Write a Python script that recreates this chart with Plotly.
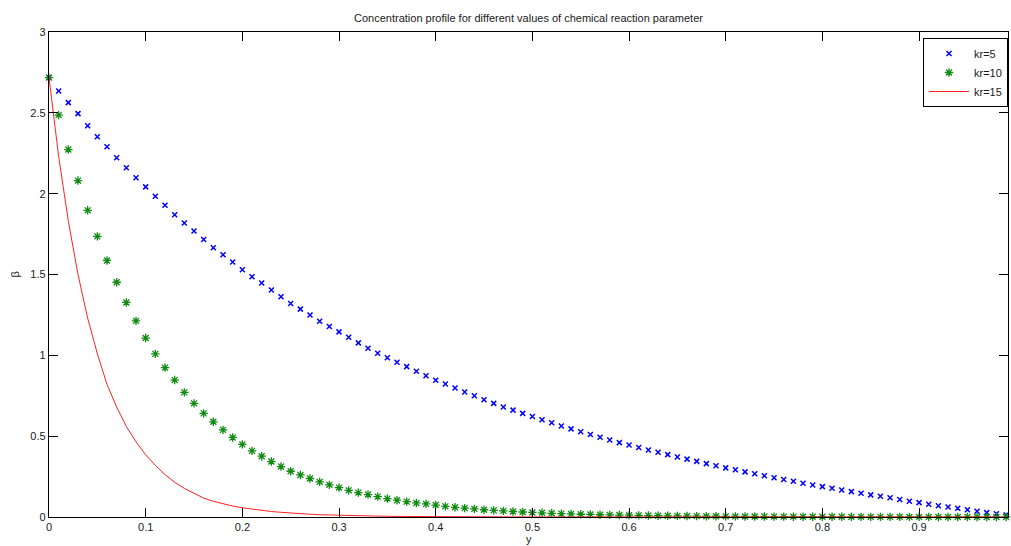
import plotly.graph_objects as go

# Sampling grid along the domain (step 0.01)
y_grid = [round(i * 0.01, 2) for i in range(100)]

# Concentration profiles for three chemical reaction parameters
beta_kr5 = [
    2.718, 2.635, 2.563, 2.495, 2.420, 2.352, 2.290, 2.222, 2.160, 2.098,
    2.042, 1.984, 1.928, 1.870, 1.819, 1.769, 1.717, 1.666, 1.622, 1.577,
    1.529, 1.486, 1.447, 1.404, 1.362, 1.321, 1.286, 1.249, 1.211, 1.178,
    1.145, 1.112, 1.077, 1.044, 1.013, 0.985, 0.957, 0.930, 0.901, 0.874,
    0.846, 0.823, 0.798, 0.773, 0.750, 0.725, 0.703, 0.681, 0.661, 0.641,
    0.622, 0.602, 0.583, 0.563, 0.545, 0.527, 0.510, 0.493, 0.476, 0.460,
    0.445, 0.430, 0.414, 0.400, 0.386, 0.371, 0.358, 0.344, 0.330, 0.317,
    0.304, 0.292, 0.279, 0.267, 0.255, 0.243, 0.232, 0.221, 0.209, 0.198,
    0.188, 0.178, 0.167, 0.157, 0.147, 0.137, 0.128, 0.119, 0.108, 0.098,
    0.089, 0.079, 0.070, 0.062, 0.054, 0.045, 0.036, 0.027, 0.020, 0.012,
]

beta_kr10 = [
    2.718, 2.486, 2.273, 2.081, 1.897, 1.736, 1.587, 1.452, 1.327, 1.213,
    1.107, 1.009, 0.924, 0.847, 0.771, 0.703, 0.641, 0.589, 0.539, 0.492,
    0.449, 0.409, 0.376, 0.343, 0.312, 0.283, 0.260, 0.238, 0.217, 0.199,
    0.182, 0.165, 0.151, 0.139, 0.126, 0.114, 0.104, 0.095, 0.087, 0.081,
    0.074, 0.066, 0.060, 0.055, 0.050, 0.045, 0.041, 0.038, 0.034, 0.031,
    0.028, 0.026, 0.023, 0.021, 0.019, 0.017, 0.016, 0.014, 0.013, 0.012,
    0.011, 0.010, 0.009, 0.008, 0.0075, 0.007, 0.006, 0.0055, 0.005, 0.0045,
    0.004, 0.0037, 0.0033, 0.003, 0.0027, 0.0025, 0.0022, 0.002, 0.0018, 0.0016,
    0.0015, 0.0013, 0.0012, 0.0011, 0.001, 0.0009, 0.0008, 0.0007, 0.0006, 0.0006,
    0.0005, 0.0005, 0.0004, 0.0004, 0.0003, 0.0003, 0.0003, 0.0002, 0.0002, 0.0002,
]

beta_kr15 = [
    2.718, 2.23, 1.83, 1.50, 1.23, 1.01, 0.82, 0.68, 0.56, 0.465,
    0.385, 0.32, 0.262, 0.215, 0.177, 0.145, 0.117, 0.097, 0.081, 0.068,
    0.057, 0.048, 0.040, 0.034, 0.029, 0.024, 0.020, 0.017, 0.014, 0.012,
    0.010, 0.0085, 0.007, 0.006, 0.005, 0.0042, 0.0035, 0.003, 0.0025, 0.0021,
    0.0018, 0.0015, 0.0013, 0.0011, 0.0009, 0.0008, 0.0007, 0.0006, 0.0005, 0.0004,
    0.0004, 0.0003, 0.0003, 0.0002, 0.0002, 0.0002, 0.0001, 0.0001, 0.0001, 0.0001,
    0.0001, 0.0001, 0.0001, 0.0001, 0.0001, 0.0001, 0.0001, 0.0001, 0.0001, 0.0001,
    0.0, 0.0, 0.0, 0.0, 0.0, 0.0, 0.0, 0.0, 0.0, 0.0,
    0.0, 0.0, 0.0, 0.0, 0.0, 0.0, 0.0, 0.0, 0.0, 0.0,
    0.0, 0.0, 0.0, 0.0, 0.0, 0.0, 0.0, 0.0, 0.0, 0.0,
]

x_ticks = [0, 0.1, 0.2, 0.3, 0.4, 0.5, 0.6, 0.7, 0.8, 0.9]
x_tick_text = ["0", "0.1", "0.2", "0.3", "0.4", "0.5", "0.6", "0.7", "0.8", "0.9"]
y_ticks = [0, 0.5, 1, 1.5, 2, 2.5, 3]
y_tick_text = ["0", "0.5", "1", "1.5", "2", "2.5", "3"]

FONT = "Liberation Sans, Arial, sans-serif"

fig = go.Figure()

fig.add_trace(go.Scatter(
    x=y_grid, y=beta_kr5, mode="markers", name="kr=5", cliponaxis=False,
    marker=dict(symbol="x-thin-open", size=5, color="#0000ff",
                line=dict(color="#0000ff", width=1.5)),
))
fig.add_trace(go.Scatter(
    x=y_grid, y=beta_kr10, mode="markers", name="kr=10", cliponaxis=False,
    marker=dict(symbol="asterisk-open", size=7, color="#108a10",
                line=dict(color="#108a10", width=1.3)),
))
fig.add_trace(go.Scatter(
    x=y_grid, y=beta_kr15, mode="lines", name="kr=15", cliponaxis=False,
    line=dict(color="#ff2020", width=1),
))

axis_common = dict(
    showline=True, linecolor="black", linewidth=1.3, mirror="ticks",
    ticks="inside", ticklen=9, tickcolor="black", tickwidth=1,
    showgrid=False, zeroline=False,
    tickfont=dict(family=FONT, size=11, color="#1a1a1a"),
)

fig.update_xaxes(range=[0, 0.992], tickvals=x_ticks, ticktext=x_tick_text,
                 **axis_common)
fig.update_yaxes(range=[0, 3], tickvals=y_ticks, ticktext=y_tick_text,
                 **axis_common)

fig.update_layout(
    width=1011, height=546,
    margin=dict(l=49, r=3, t=32, b=29),
    paper_bgcolor="white", plot_bgcolor="white",
    font=dict(family=FONT, size=11, color="#1a1a1a"),
    title=dict(text="Concentration profile for different values of chemical reaction parameter",
               x=0.5, xref="paper", y=1 - 18 / 546, yref="container",
               yanchor="middle", xanchor="center",
               font=dict(family=FONT, size=11, color="#1a1a1a")),
    legend=dict(x=1, xanchor="right", y=1 - 6 / 485, yanchor="top",
                bordercolor="black", borderwidth=1, bgcolor="white",
                font=dict(family=FONT, size=11, color="#1a1a1a"),
                itemwidth=40, tracegroupgap=0),
    showlegend=True,
)

# Axis labels
fig.add_annotation(text="β", xref="paper", yref="paper", x=-35 / 959, y=0.5,
                   textangle=-90, showarrow=False, xanchor="center", yanchor="middle",
                   font=dict(family=FONT, size=11, color="#1a1a1a"))
fig.add_annotation(text="y", xref="paper", yref="paper", x=0.5, y=-28.5 / 485,
                   showarrow=False, xanchor="center", yanchor="bottom",
                   borderpad=0,
                   font=dict(family=FONT, size=11, color="#1a1a1a"))

fig.write_html("out.html")
